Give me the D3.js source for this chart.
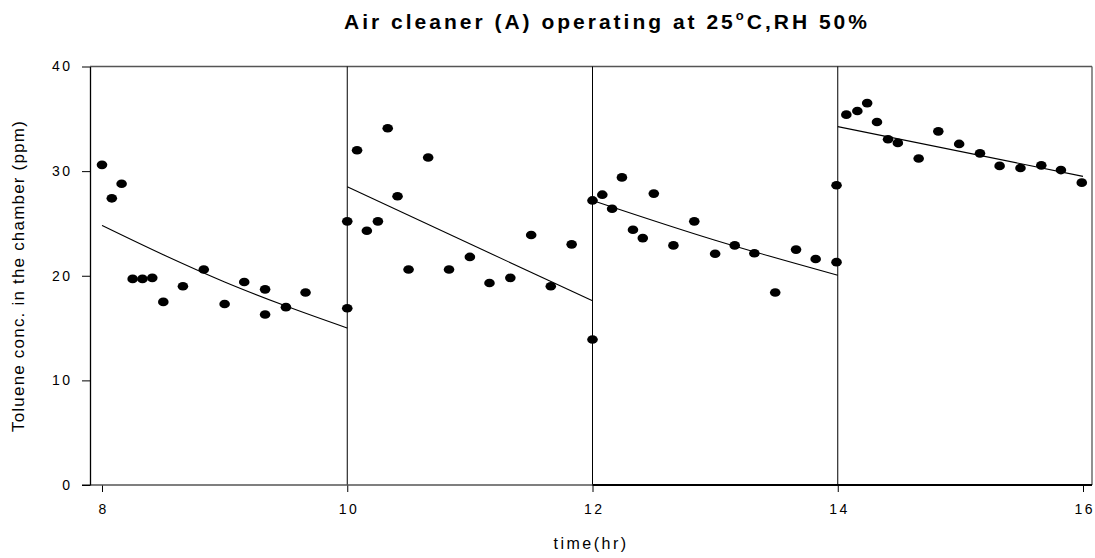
<!DOCTYPE html>
<html>
<head>
<meta charset="utf-8">
<script src="https://cdn.jsdelivr.net/npm/d3@7"></script>
<style>
  body { margin: 0; background: #fff; }
  text { font-family: "Liberation Sans", Arial, sans-serif; }
</style>
</head>
<body>
<svg width="1095" height="558"></svg>
<script>
var svg = d3.select('svg');

// measured points, one array per cleaner run
var times1 = [8.0, 8.08, 8.16, 8.25, 8.33, 8.41, 8.5, 8.66, 8.83, 9.0, 9.16, 9.33, 9.33, 9.5, 9.66, 10.0];
var conc1  = [30.6, 27.4, 28.8, 19.7, 19.7, 19.8, 17.5, 19.0, 20.6, 17.3, 19.4, 18.7, 16.3, 17.0, 18.4, 16.9];

var times2 = [10.0, 10.08, 10.16, 10.25, 10.33, 10.41, 10.5, 10.66, 10.83, 11.0, 11.16, 11.33, 11.5, 11.66, 11.83, 12.0];
var conc2  = [25.2, 32.0, 24.3, 25.2, 34.1, 27.6, 20.6, 31.3, 20.6, 21.8, 19.3, 19.8, 23.9, 19.0, 23.0, 13.9];

var times3 = [12.0, 12.08, 12.16, 12.24, 12.33, 12.41, 12.5, 12.66, 12.83, 13.0, 13.16, 13.32, 13.49, 13.66, 13.82, 13.99];
var conc3  = [27.2, 27.75, 26.4, 29.4, 24.4, 23.6, 27.85, 22.9, 25.2, 22.1, 22.9, 22.15, 18.4, 22.5, 21.6, 21.3];

var times4 = [13.99, 14.07, 14.16, 14.24, 14.32, 14.41, 14.49, 14.66, 14.82, 14.99, 15.16, 15.32, 15.49, 15.66, 15.82, 15.99];
var conc4  = [28.65, 35.4, 35.75, 36.5, 34.7, 33.05, 32.7, 31.2, 33.8, 32.6, 31.7, 30.5, 30.3, 30.55, 30.1, 28.9];

// fitted decay curves
var fit1 = [[8.0, 24.8], [8.5, 22.0], [9.0, 19.4], [9.5, 17.1], [10.0, 15.0]];
var fit2 = [[10.0, 28.5], [12.0, 17.6]];
var fit3 = [[12.0, 27.2], [13.0, 23.4], [14.0, 20.05]];
var fit4 = [[14.0, 34.25], [16.0, 29.5]];

var xTicks = [8, 10, 12, 14, 16];
var yTicks = [0, 10, 20, 30, 40];
var dividers = [10, 12, 14];

var x = d3.scaleLinear().domain([8, 16]).range([102, 1083]);
var y = d3.scaleLinear().domain([0, 40]).range([485, 66.5]);

var plotLeft = 90, plotRight = 1092, plotTop = 66.5, plotBottom = 485;

// frame
svg.append('line').attr('x1', plotLeft).attr('x2', plotRight).attr('y1', plotTop).attr('y2', plotTop)
    .attr('stroke', '#555').attr('stroke-width', 1.3);
svg.append('line').attr('x1', plotRight).attr('x2', plotRight).attr('y1', plotTop).attr('y2', plotBottom)
    .attr('stroke', '#555').attr('stroke-width', 1.3);

// run dividers
svg.selectAll('.div')
    .data(dividers)
    .enter()
    .append('line')
    .attr('x1', function(d){ return x(d); })
    .attr('x2', function(d){ return x(d); })
    .attr('y1', plotTop)
    .attr('y2', plotBottom)
    .attr('stroke', '#000')
    .attr('stroke-width', 1);

// axes
var xAxis = d3.axisBottom(x).tickValues(xTicks).tickSize(7).tickSizeOuter(0);
var gx = svg.append('g').attr('transform', 'translate(0,' + plotBottom + ')').call(xAxis);
gx.select('.domain').remove();
gx.append('line').attr('x1', plotLeft - 8).attr('x2', plotRight).attr('y1', 0).attr('y2', 0)
    .attr('stroke', '#555').attr('stroke-width', 1.5);
gx.append('line').attr('x1', x(12)).attr('x2', plotRight).attr('y1', 0).attr('y2', 0)
    .attr('stroke', '#000').attr('stroke-width', 2);
gx.selectAll('.tick line').attr('stroke', '#000');
gx.selectAll('.tick text').attr('font-size', 14).attr('letter-spacing', 2.5)
    .attr('x', 1.2).attr('y', 0).attr('dy', 29).attr('fill', '#000');

var yAxis = d3.axisLeft(y).tickValues(yTicks).tickSize(8).tickSizeOuter(0);
var gy = svg.append('g').attr('transform', 'translate(' + plotLeft + ',0)').call(yAxis);
gy.select('.domain').attr('stroke', '#000').attr('stroke-width', 1.3);
gy.selectAll('.tick line').attr('stroke', '#000');
gy.selectAll('.tick text').attr('font-size', 14).attr('letter-spacing', 2.5)
    .attr('x', -17.5).attr('fill', '#000');

// fit lines
var line = d3.line()
    .x(function(d){ return x(d[0]); })
    .y(function(d){ return y(d[1]); })
    .curve(d3.curveMonotoneX);

[fit1, fit2, fit3, fit4].forEach(function(f){
    svg.append('path')
        .attr('d', line(f))
        .attr('fill', 'none')
        .attr('stroke', '#000')
        .attr('stroke-width', 1.1);
});

// points
var pts = [];
[[times1, conc1], [times2, conc2], [times3, conc3], [times4, conc4]].forEach(function(s){
    s[0].forEach(function(t, i){
        pts.push({t: t, c: s[1][i]});
    });
});

svg.selectAll('ellipse')
    .data(pts)
    .enter()
    .append('ellipse')
    .attr('cx', function(d){ return x(d.t); })
    .attr('cy', function(d){ return y(d.c); })
    .attr('rx', 5.3)
    .attr('ry', 4.3)
    .attr('fill', '#000');

// title
var title = svg.append('text')
    .attr('x', 607)
    .attr('y', 28.5)
    .attr('text-anchor', 'middle')
    .attr('font-size', 21)
    .attr('font-weight', 'bold')
    .attr('letter-spacing', 3);
title.append('tspan').text('Air cleaner (A) operating at 25');
title.append('tspan').attr('font-size', 13).attr('dy', -9).text('o');
title.append('tspan').attr('dy', 9).text('C,RH 50%');

// axis titles
svg.append('text')
    .attr('x', 591)
    .attr('y', 549)
    .attr('text-anchor', 'middle')
    .attr('font-size', 16)
    .attr('letter-spacing', 2.5)
    .text('time(hr)');

svg.append('text')
    .attr('transform', 'translate(24,276) rotate(-90)')
    .attr('text-anchor', 'middle')
    .attr('font-size', 17)
    .attr('letter-spacing', 1.2)
    .text('Toluene conc. in the chamber (ppm)');
</script>
</body>
</html>
